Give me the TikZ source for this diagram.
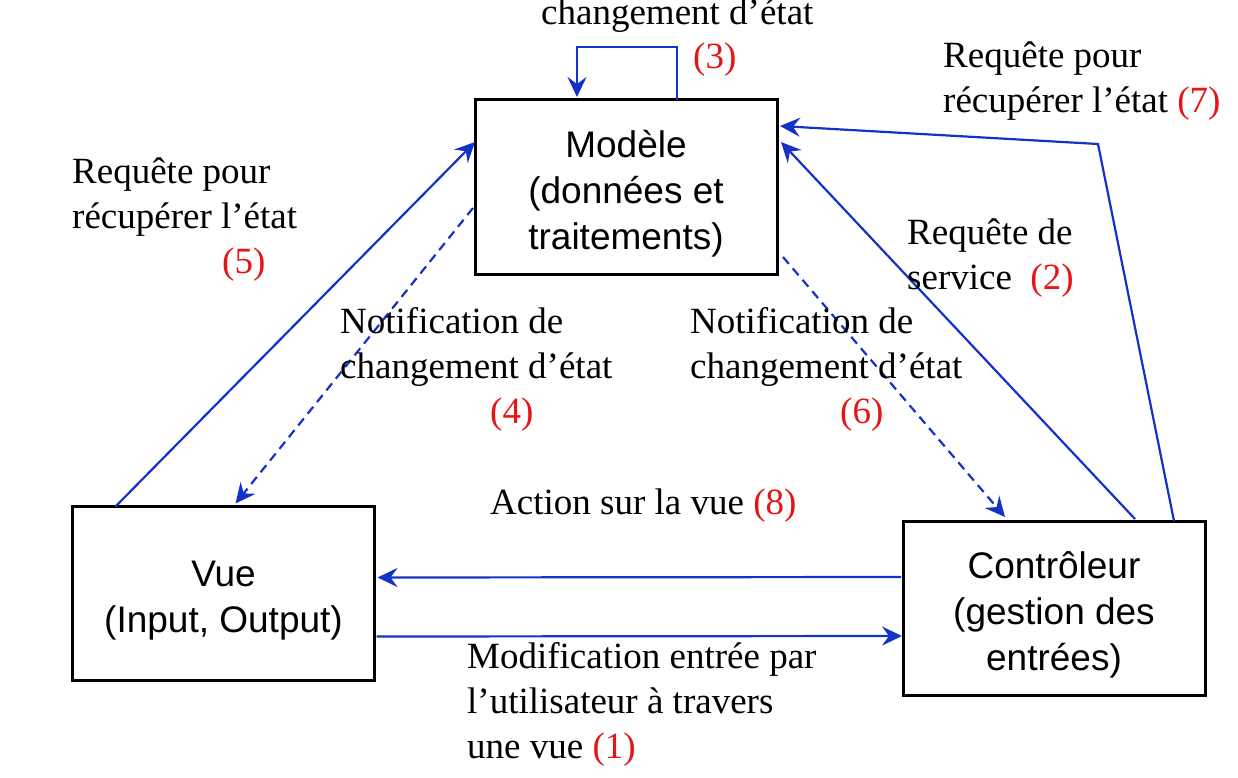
\documentclass[tikz,border=0pt]{standalone}
\usepackage{fontspec}
\setmainfont{Liberation Serif}
\newfontfamily\boxfont{Liberation Sans}
\usetikzlibrary{arrows.meta,calc}
\definecolor{arrowblue}{RGB}{20,50,200}
\definecolor{numred}{RGB}{230,20,20}
\newcommand{\nb}[1]{\textcolor{numred}{#1}}
\newcommand{\firstline}{\rule{0pt}{40pt}}
\begin{document}
\begin{tikzpicture}[x=1pt,y=-1pt,
  box/.style={draw=black,line width=3pt,minimum width=302pt,minimum height=174pt,inner sep=0pt,outer sep=0pt,align=center,font=\boxfont\fontsize{37}{46}\selectfont},
  lbl/.style={inner sep=0pt,align=left,anchor=base west,font=\fontsize{37}{45}\selectfont},
  flow/.style={draw=arrowblue,line width=2.2pt,-{Stealth[length=20pt,width=19pt,inset=7pt]}},
  notif/.style={flow,dash pattern=on 9pt off 6pt}]
\useasboundingbox (0,0) rectangle (1238,778);
% boxes
\node[box] (model) at (626,187) {\firstline Modèle\\(données et\\traitements)};
\node[box] (vue) at (223.5,593.5) {\firstline Vue\\(Input, Output)};
\node[box] (ctrl) at (1054,608) {\firstline Contrôleur\\(gestion des\\entrées)};
% self loop (3)
\coordinate (loopa) at ($(model.north west)+(202,-53)$);
\coordinate (loopb) at ($(model.north west)+(102,-53)$);
\draw[flow] ($(model.north west)+(202,0)$) -- (loopa) -- (loopb) -- ($(model.north west)+(102,-3)$);
% (7)
\coordinate (bend7) at (1098,144);
\draw[flow] ($(ctrl.north west)+(271,0)$) -- (bend7) -- ($(model.north east)+(3,26)$);
% (2)
\draw[flow] ($(ctrl.north west)+(232,-2)$) -- ($(model.north east)+(4,42)$);
% (6)
\draw[notif] ($(model.south east)+(6,-17)$) -- ($(ctrl.north west)+(102,-4)$);
% (5)
\draw[flow] ($(vue.north west)+(43,0)$) -- ($(model.north west)+(0,42)$);
% (4)
\draw[notif] ($(model.north west)+(-2,108)$) -- ($(vue.north west)+(163,-3)$);
% (8)
\draw[flow] ($(ctrl.north west)+(-2,56)$) -- ($(vue.north east)+(3,71)$);
% (1)
\draw[flow] ($(vue.north east)+(2,130)$) -- ($(ctrl.north west)+(-1,115)$);
% labels (base west = baseline of the last line)
\node[lbl] (t3) at (541,25) {changement d’état};
\node[lbl] (n3) at (693,69) {\nb{(3)}};
\node[lbl] (t7) at (943,113) {Requête pour\\récupérer l’état \nb{(7)}};
\node[lbl] (t5) at (72,273) {Requête pour\\récupérer l’état\\\hspace*{150pt}\nb{(5)}};
\node[lbl] (t2) at (907,289) {Requête de\\service~ \nb{(2)}};
\node[lbl] (t4) at (340,423) {Notification de\\changement d’état\\\hspace*{150pt}\nb{(4)}};
\node[lbl] (t6) at (690,423) {Notification de\\changement d’état\\\hspace*{150pt}\nb{(6)}};
\node[lbl] (t8) at (490,514) {Action sur la vue \nb{(8)}};
\node[lbl] (t1) at (467,758) {Modification entrée par\\l’utilisateur à travers\\une vue \nb{(1)}};
\end{tikzpicture}
\end{document}
